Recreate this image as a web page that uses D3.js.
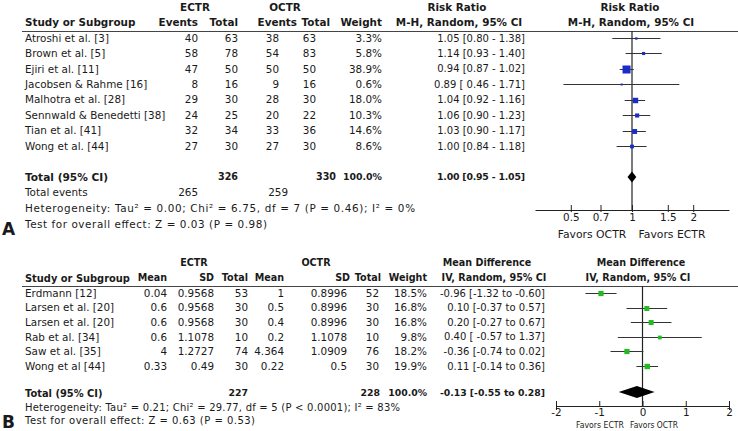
<!DOCTYPE html>
<html><head><meta charset="utf-8">
<script src="https://cdn.jsdelivr.net/npm/d3@7"></script>
<style>
body{margin:0;background:#fff}
svg{display:block}
text{font-family:"DejaVu Sans",sans-serif;fill:#1a1a1a}
</style>
</head><body><script>
// ---------- Panel A data (Risk Ratio) ----------
const studiesA = ["Atroshi et al. [3]","Brown et al. [5]","Ejiri et al. [11]","Jacobsen & Rahme [16]","Malhotra et al. [28]","Sennwald & Benedetti [38]","Tian et al. [41]","Wong et al. [44]"];
const ectrEventsA = [40,58,47,8,29,24,32,27];
const ectrTotalA  = [63,78,50,16,30,25,34,30];
const octrEventsA = [38,54,50,9,28,20,33,27];
const octrTotalA  = [63,83,50,16,30,22,36,30];
const weightA     = [3.3,5.8,38.9,0.6,18.0,10.3,14.6,8.6];
const rrA         = [1.05,1.14,0.94,0.89,1.04,1.06,1.03,1.00];
const lowA        = [0.80,0.93,0.87,0.46,0.92,0.90,0.90,0.84];
const highA       = [1.38,1.40,1.02,1.71,1.16,1.23,1.17,1.18];
const ciTextA     = ["1.05 [0.80 - 1.38]","1.14 [0.93 - 1.40]","0.94 [0.87 - 1.02]","0.89 [ 0.46 - 1.71]","1.04 [0.92 - 1.16]","1.06 [0.90 - 1.23]","1.03 [0.90 - 1.17]","1.00 [0.84 - 1.18]"];
const totalA      = {ectr:326, octr:330, ectrEvents:265, octrEvents:259, est:1.00, low:0.95, high:1.05, text:"1.00 [0.95 - 1.05]"};
const ticksA      = [0.5,0.7,1,1.5,2];
const tickLabelsA = ["0.5","0.7","1","1.5","2"];
const hetA  = "Heterogeneity: Tau² = 0.00; Chi² = 6.75, df = 7 (P = 0.46); I² = 0%";
const testA = "Test for overall effect: Z = 0.03 (P = 0.98)";

// ---------- Panel B data (Mean Difference) ----------
const studiesB   = ["Erdmann [12]","Larsen et al. [20]","Larsen et al. [20]","Rab et al. [34]","Saw et al. [35]","Wong et al [44]"];
const ectrMeanB  = ["0.04","0.6","0.6","0.6","4","0.33"];
const ectrSdB    = ["0.9568","0.9568","0.9568","1.1078","1.2727","0.49"];
const ectrTotalB = [53,30,30,10,74,30];
const octrMeanB  = ["1","0.5","0.4","0.2","4.364","0.22"];
const octrSdB    = ["0.8996","0.8996","0.8996","1.1078","1.0909","0.5"];
const octrTotalB = [52,30,30,10,76,30];
const weightB    = [18.5,16.8,16.8,9.8,18.2,19.9];
const mdB        = [-0.96,0.10,0.20,0.40,-0.36,0.11];
const lowB       = [-1.32,-0.37,-0.27,-0.57,-0.74,-0.14];
const highB      = [-0.60,0.57,0.67,1.37,0.02,0.36];
const ciTextB    = ["-0.96 [-1.32 to -0.60]","0.10 [-0.37 to 0.57]","0.20 [-0.27 to 0.67]","0.40 [ -0.57 to 1.37]","-0.36 [-0.74 to 0.02]","0.11 [-0.14 to 0.36]"];
const totalB     = {ectr:227, octr:228, est:-0.13, low:-0.55, high:0.28, text:"-0.13 [-0.55 to 0.28]"};
const ticksB     = [-2,-1,0,1,2];
const tickLabelsB= ["-2","-1","0","1","2"];
const hetB  = "Heterogeneity: Tau² = 0.21; Chi² = 29.77, df = 5 (P < 0.0001); I² = 83%";
const testB = "Test for overall effect: Z = 0.63 (P = 0.53)";

const W=738,H=431;
const svg=d3.select("body").append("svg").attr("width",W).attr("height",H);
const FS=10.4;
function T(x,y,s,o={}){
  const t=svg.append("text").attr("x",x).attr("y",y).attr("dy","0.36em")
    .attr("text-anchor",o.a||"start").attr("font-size",o.fs||FS).text(s);
  if(o.b) t.attr("font-weight","bold");
  if(o.tl) t.attr("textLength",o.tl).attr("lengthAdjust",o.la||"spacing");
  return t;
}
function L(x1,y1,x2,y2,c="#333",w=1){
  svg.append("line").attr("x1",x1).attr("y1",y1).attr("x2",x2).attr("y2",y2)
    .attr("stroke",c).attr("stroke-width",w);
}

// ================= PANEL A =================
const yA=d3.scalePoint().domain(d3.range(studiesA.length)).range([38,146]);
T(195,7,"ECTR",{a:"middle",b:1});
T(285,7,"OCTR",{a:"middle",b:1});
T(457,7,"Risk Ratio",{a:"middle",b:1});
T(630,7,"Risk Ratio",{a:"middle",b:1});
T(25,22,"Study or Subgroup",{b:1});
T(198,22,"Events",{a:"end",b:1});
T(238,22,"Total",{a:"end",b:1});
T(297,22,"Events",{a:"end",b:1});
T(330,22,"Total",{a:"end",b:1});
T(382,22,"Weight",{a:"end",b:1});
T(459,22,"M-H, Random, 95% CI",{a:"middle",b:1});
T(631,22,"M-H, Random, 95% CI",{a:"middle",b:1});
L(22,31.5,738,31.5,"#444",1);

studiesA.forEach((s,i)=>{
  const y=yA(i);
  T(25,y,s);
  T(198,y,ectrEventsA[i],{a:"end"});
  T(238,y,ectrTotalA[i],{a:"end"});
  T(279,y,octrEventsA[i],{a:"end"});
  T(316,y,octrTotalA[i],{a:"end"});
  T(382,y,weightA[i].toFixed(1)+"%",{a:"end"});
  T(525,y,ciTextA[i],{a:"end",fs:10});
});
T(25,177,"Total (95% CI)",{b:1,fs:10.6});
T(238,177,totalA.ectr,{a:"end",b:1,fs:9.6});
T(336,177,totalA.octr,{a:"end",b:1,fs:9.6});
T(382,177,"100.0%",{a:"end",b:1,fs:9.4});
T(525,177,totalA.text,{a:"end",b:1,fs:9.4,tl:88});
T(25,192,"Total events");
T(198,192,totalA.ectrEvents,{a:"end"});
T(288,192,totalA.octrEvents,{a:"end"});
T(25,208,hetA,{tl:390});
T(25,224,testA,{tl:242});
T(2,229,"A",{b:1,fs:17});

const xA=d3.scaleLog().domain([1/3,3]).range([535,729]);
const sA=d3.scaleSqrt().domain([0,38.9]).range([0,8]);
L(xA(1),31,xA(1),210,"#222",1.2);
studiesA.forEach((s,i)=>{
  const y=Math.round(yA(i))+0.5;
  L(xA(lowA[i]),y,xA(highA[i]),y,"#333",1);
  const z=Math.max(2,sA(weightA[i]));
  svg.append("rect").attr("x",xA(rrA[i])-z/2).attr("y",y-z/2).attr("width",z).attr("height",z).attr("fill","#1b2bc8");
});
svg.append("path").attr("d",`M${xA(totalA.low)},177 L${xA(totalA.est)},171.5 L${xA(totalA.high)},177 L${xA(totalA.est)},182.5 Z`).attr("fill","#000");
const axA=svg.append("g").attr("transform","translate(0,210)")
  .call(d3.axisBottom(xA).tickValues(ticksA).tickFormat((d,i)=>tickLabelsA[i]).tickSizeInner(-5).tickSizeOuter(0).tickPadding(4));
axA.select(".domain").attr("stroke","#222");
axA.selectAll(".tick line").attr("y1",-5).attr("y2",2).attr("stroke","#222");
axA.selectAll(".tick text").attr("font-family","DejaVu Sans").attr("font-size",10.4).attr("fill","#222");
T(592,234,"Favors OCTR",{a:"middle",fs:10.8});
T(672,234,"Favors ECTR",{a:"middle",fs:10.8});

// ================= PANEL B =================
const yB=d3.scalePoint().domain(d3.range(studiesB.length)).range([293,366]);
const HB=9.6;
T(194,263,"ECTR",{a:"middle",b:1,fs:HB});
T(316,263,"OCTR",{a:"middle",b:1,fs:HB});
T(487,263,"Mean Difference",{a:"middle",b:1,fs:HB});
T(641,263,"Mean Difference",{a:"middle",b:1,fs:HB});
T(25,278,"Study or Subgroup",{b:1,fs:9.9});
T(167,278,"Mean",{a:"end",b:1,fs:HB});
T(214,278,"SD",{a:"end",b:1,fs:HB});
T(248,278,"Total",{a:"end",b:1,fs:HB});
T(284,278,"Mean",{a:"end",b:1,fs:HB});
T(350,278,"SD",{a:"end",b:1,fs:HB});
T(381,278,"Total",{a:"end",b:1,fs:HB});
T(427,278,"Weight",{a:"end",b:1,fs:HB});
T(494,278,"IV, Random, 95% CI",{a:"middle",b:1,fs:HB});
T(638,278,"IV, Random, 95% CI",{a:"middle",b:1,fs:HB});
L(22,286.5,738,286.5,"#444",1);

studiesB.forEach((s,i)=>{
  const y=yB(i);
  T(25,y,s);
  T(167,y,ectrMeanB[i],{a:"end"});
  T(214,y,ectrSdB[i],{a:"end"});
  T(248,y,ectrTotalB[i],{a:"end"});
  T(284,y,octrMeanB[i],{a:"end"});
  T(347,y,octrSdB[i],{a:"end"});
  T(379,y,octrTotalB[i],{a:"end"});
  T(427,y,weightB[i].toFixed(1)+"%",{a:"end"});
  T(545,y,ciTextB[i],{a:"end",fs:10});
});
T(25,393,"Total (95% CI)",{b:1,fs:9.9});
T(248,393,totalB.ectr,{a:"end",b:1,fs:9.4});
T(380,393,totalB.octr,{a:"end",b:1,fs:9.4});
T(427,393,"100.0%",{a:"end",b:1,fs:9.3});
T(545,393,totalB.text,{a:"end",b:1,fs:9.3,tl:105});
T(25,407,hetB,{tl:375,fs:10});
T(25,420,testB,{tl:230,fs:10});
T(2,422,"B",{b:1,fs:17});

const xB=d3.scaleLinear().domain([-2,2]).range([556,729]);
const sB=d3.scaleSqrt().domain([0,19.9]).range([0,5.4]);
L(xB(0),286,xB(0),406,"#222",1.2);
studiesB.forEach((s,i)=>{
  const y=Math.round(yB(i))+0.5;
  L(xB(lowB[i]),y,xB(highB[i]),y,"#333",1);
  const z=Math.max(2,sB(weightB[i]));
  svg.append("rect").attr("x",xB(mdB[i])-z/2).attr("y",y-z/2).attr("width",z).attr("height",z).attr("fill","#22bb22");
});
svg.append("path").attr("d",`M${xB(totalB.low)},392 L${xB(totalB.est)},386 L${xB(totalB.high)},392 L${xB(totalB.est)},398 Z`).attr("fill","#000");
const axB=svg.append("g").attr("transform","translate(0,406)")
  .call(d3.axisBottom(xB).tickValues(ticksB).tickFormat((d,i)=>tickLabelsB[i]).tickSizeInner(-5).tickSizeOuter(0).tickPadding(3));
axB.select(".domain").attr("stroke","#222");
axB.selectAll(".tick line").attr("y1",-5).attr("y2",d=>Math.abs(d)===2?4:1).attr("stroke","#222");
axB.selectAll(".tick text").attr("font-family","DejaVu Sans").attr("font-size",10.4).attr("fill","#222");
T(600,425,"Favors ECTR",{a:"middle",fs:9,tl:48,la:"spacingAndGlyphs"});
T(654,425,"Favors OCTR",{a:"middle",fs:9,tl:48,la:"spacingAndGlyphs"});
</script></body></html>
